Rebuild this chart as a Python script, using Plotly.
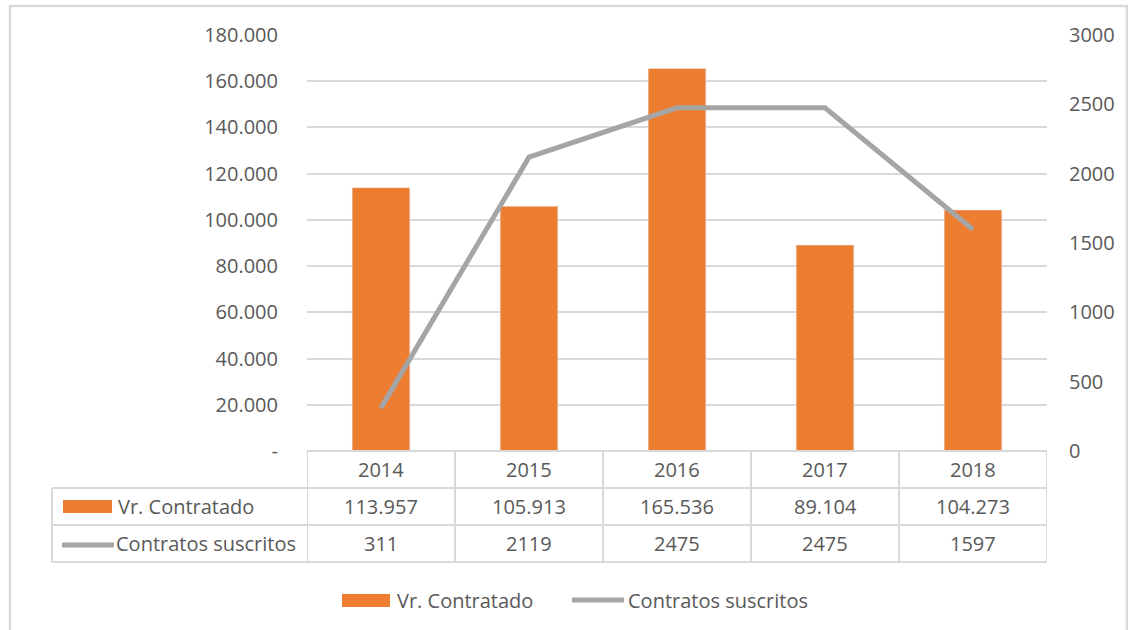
import plotly.graph_objects as go

years = ["2014", "2015", "2016", "2017", "2018"]
vr_contratado = [113957, 105913, 165536, 89104, 104273]
contratos = [311, 2119, 2475, 2475, 1597]
left_ticks = [0, 20000, 40000, 60000, 80000, 100000, 120000, 140000, 160000, 180000]
right_ticks = [0, 500, 1000, 1500, 2000, 2500, 3000]
series_names = ["Vr. Contratado", "Contratos suscritos"]

W, H = 1128, 630
ORANGE = "#ED7D31"
GRAY = "#A5A5A5"
TXT = "#595959"
GRID = "#D9D9D9"
FONT = "Open Sans"
FS = 20


def px(x):
    return x / W


def py(y):
    return 1 - y / H


def fmt(v):
    return "-" if v == 0 else f"{v:,}".replace(",", ".")


fig = go.Figure()
fig.add_trace(go.Bar(x=years, y=vr_contratado, name=series_names[0],
                     marker_color=ORANGE, width=0.39, yaxis="y"))
fig.add_trace(go.Scatter(x=years, y=contratos, name=series_names[1], mode="lines",
                         line=dict(color=GRAY, width=5), yaxis="y2"))

shapes = []
annotations = []
tl = dict(color=GRID, width=2)
tf = dict(size=FS, color=TXT, family=FONT)

# table horizontal lines
shapes.append(dict(type="line", xref="paper", yref="paper", x0=px(307), x1=px(1047),
                   y0=py(451), y1=py(451), line=tl))
for yy in [488, 525, 562]:
    shapes.append(dict(type="line", xref="paper", yref="paper", x0=px(52), x1=px(1047),
                       y0=py(yy), y1=py(yy), line=tl))
# vertical lines
shapes.append(dict(type="line", xref="paper", yref="paper", x0=px(52), x1=px(52),
                   y0=py(488), y1=py(562), line=tl))
for i in range(len(years) + 1):
    shapes.append(dict(type="line", xref="x", yref="paper", x0=i - 0.5, x1=i - 0.5,
                       y0=py(451), y1=py(562), line=tl))

# table text (category index positions)
for i, yr in enumerate(years):
    for yy, txt in [(469.5, yr), (506.5, fmt(vr_contratado[i])), (543.5, str(contratos[i]))]:
        annotations.append(dict(x=i, y=py(yy), xref="x", yref="paper", text=txt,
                                xanchor="center", yanchor="middle", showarrow=False, font=tf))

# table row keys
shapes.append(dict(type="rect", xref="paper", yref="paper", x0=px(63), x1=px(112),
                   y0=py(513), y1=py(500), fillcolor=ORANGE, line=dict(width=0)))
shapes.append(dict(type="line", xref="paper", yref="paper", x0=px(62), x1=px(114),
                   y0=py(545), y1=py(545), line=dict(color=GRAY, width=5)))
annotations.append(dict(x=px(116), y=py(506.5), xref="paper", yref="paper", text=series_names[0],
                        xanchor="left", yanchor="middle", showarrow=False, font=tf))
annotations.append(dict(x=px(114), y=py(543.5), xref="paper", yref="paper", text=series_names[1],
                        xanchor="left", yanchor="middle", showarrow=False, font=tf))

# bottom legend
shapes.append(dict(type="rect", xref="paper", yref="paper", x0=px(342), x1=px(390),
                   y0=py(607), y1=py(594), fillcolor=ORANGE, line=dict(width=0)))
shapes.append(dict(type="line", xref="paper", yref="paper", x0=px(572), x1=px(624),
                   y0=py(600), y1=py(600), line=dict(color=GRAY, width=5)))
annotations.append(dict(x=px(395), y=py(600), xref="paper", yref="paper", text=series_names[0],
                        xanchor="left", yanchor="middle", showarrow=False, font=tf))
annotations.append(dict(x=px(626), y=py(600), xref="paper", yref="paper", text=series_names[1],
                        xanchor="left", yanchor="middle", showarrow=False, font=tf))

# outer border
shapes.append(dict(type="rect", xref="paper", yref="paper", x0=px(10), x1=px(1127),
                   y0=-0.1, y1=py(6), line=dict(color=GRID, width=2.5), layer="below"))

fig.update_layout(
    width=W, height=H,
    margin=dict(l=0, r=0, t=0, b=0, pad=0, autoexpand=False),
    paper_bgcolor="white", plot_bgcolor="white",
    showlegend=False,
    bargap=0.61,
    font=dict(family=FONT, size=FS, color=TXT),
    xaxis=dict(type="category", domain=[px(307), px(1047)], range=[-0.5, len(years) - 0.5],
               showticklabels=False, showgrid=False,
               zeroline=False, showline=False, ticks="", automargin=False),
    yaxis=dict(domain=[py(451), py(35)], range=[0, 180000], tickvals=left_ticks,
               ticktext=[fmt(v) for v in left_ticks], showgrid=True, gridcolor=GRID,
               gridwidth=1.5, zeroline=False, showline=False, ticklabelstandoff=28,
               automargin=False, tickfont=tf),
    yaxis2=dict(overlaying="y", side="right", range=[0, 3000], tickvals=right_ticks,
                showgrid=False, zeroline=False, showline=False, ticklabelstandoff=21,
                automargin=False, tickfont=tf),
    shapes=shapes,
    annotations=annotations,
)

fig.write_html("out.html", config={"displayModeBar": False},
               post_script="document.body.style.margin='0';document.body.style.overflow='hidden';")
